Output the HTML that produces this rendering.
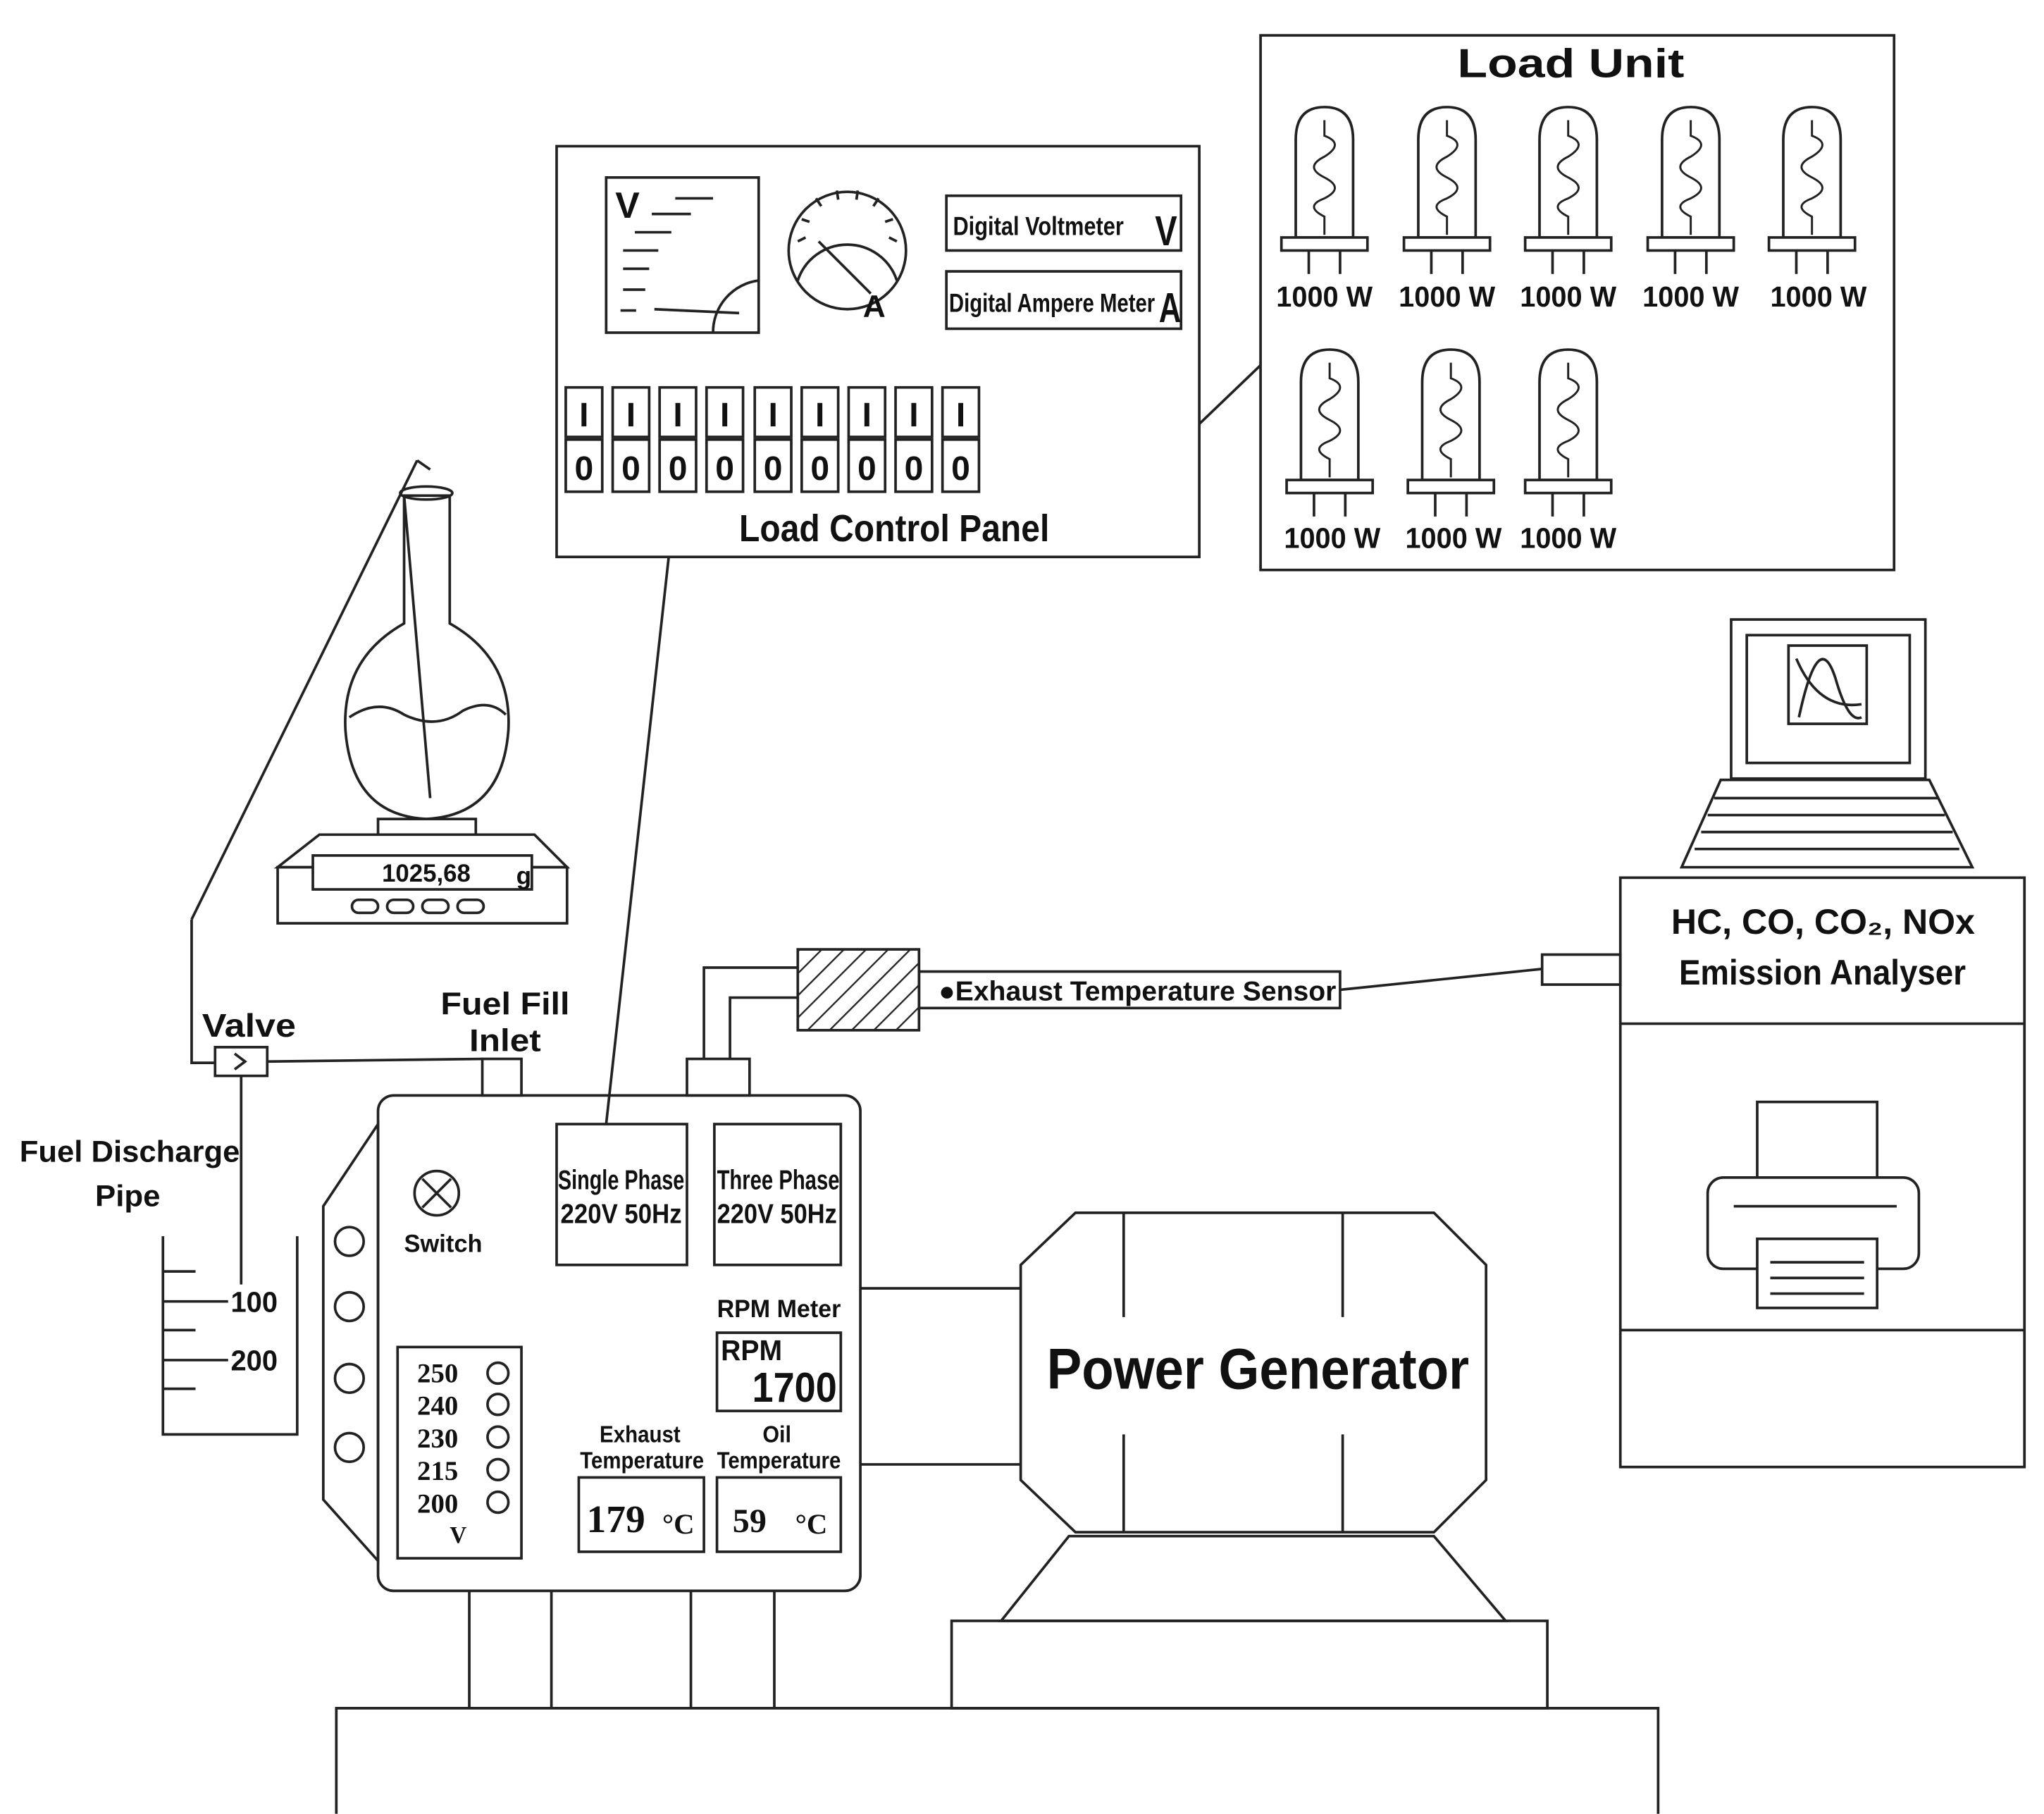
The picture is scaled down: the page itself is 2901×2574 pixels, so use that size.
<!DOCTYPE html>
<html><head><meta charset="utf-8"><style>
html,body{margin:0;padding:0;background:#fff;}
svg{display:block;}
text{font-family:"Liberation Sans",sans-serif;font-weight:bold;fill:#111;}
.s{font-family:"Liberation Serif",serif;}
</style></head><body>
<svg width="2901" height="2574" viewBox="0 0 1568 1391" xmlns="http://www.w3.org/2000/svg">
<defs>
<g id="bulb">
<path d="M-22,100 L-22,25 Q-22,0 0,0 Q22,0 22,25 L22,100 Z" fill="#fff" stroke="#222" stroke-width="2"/>
<path d="M0,10 L0,22 Q16,28 0,38 Q-16,46 0,54 Q16,62 0,70 Q-16,76 0,84 L0,98" fill="none" stroke="#222" stroke-width="1.6"/>
<rect x="-33" y="100" width="66" height="10" fill="#fff" stroke="#222" stroke-width="2"/>
<line x1="-12" y1="110" x2="-12" y2="128" stroke="#222" stroke-width="2"/>
<line x1="12" y1="110" x2="12" y2="128" stroke="#222" stroke-width="2"/>
</g>
<pattern id="hatch" width="12" height="12" patternUnits="userSpaceOnUse" patternTransform="rotate(45)">
<line x1="0" y1="0" x2="0" y2="12" stroke="#222" stroke-width="2.5"/>
</pattern>
</defs>
<g stroke="#222" stroke-width="2" fill="none">
<rect x="427" y="112" width="493" height="315"/>
<rect x="465" y="136" width="117" height="119"/>
<path d="M582,215 A40,40 0 0 0 547,255"/>
<line x1="518" y1="152" x2="547" y2="152"/><line x1="500" y1="164" x2="530" y2="164"/>
<line x1="487" y1="178" x2="515" y2="178"/><line x1="478" y1="192" x2="505" y2="192"/>
<line x1="478" y1="206" x2="498" y2="206"/><line x1="478" y1="222" x2="495" y2="222"/>
<line x1="476" y1="238" x2="488" y2="238"/><line x1="502" y1="237" x2="567" y2="240"/>
<circle cx="650" cy="192" r="45"/>
<path d="M612,215 A40,40 0 0 1 688,215"/>
<line x1="628" y1="185" x2="668" y2="225"/>
<line x1="612" y1="185" x2="618" y2="182"/><line x1="615" y1="168" x2="621" y2="170"/>
<line x1="626" y1="152" x2="630" y2="158"/><line x1="642" y1="146" x2="643" y2="153"/>
<line x1="658" y1="146" x2="657" y2="153"/><line x1="674" y1="152" x2="670" y2="158"/>
<line x1="685" y1="168" x2="679" y2="170"/><line x1="688" y1="185" x2="682" y2="182"/>
<rect x="726" y="150" width="180" height="42"/>
<rect x="726" y="208" width="180" height="44"/>
<g id="sw">
<rect x="434" y="297" width="28" height="38"/><rect x="434" y="337" width="28" height="40"/>
</g>
<use href="#sw" x="36"/><use href="#sw" x="72"/><use href="#sw" x="108"/><use href="#sw" x="145"/>
<use href="#sw" x="181"/><use href="#sw" x="217"/><use href="#sw" x="253"/><use href="#sw" x="289"/>
<line x1="920" y1="325" x2="967" y2="280"/>
<line x1="513" y1="427" x2="465" y2="862"/>
<rect x="967" y="27" width="486" height="410"/>
<line x1="320" y1="353" x2="147" y2="705"/>
<polyline points="147,705 147,815 165,815"/>
<line x1="320" y1="353" x2="330" y2="360"/>
<path d="M310,380 L310,478 Q262,505 265,560 Q270,625 327,628 Q385,625 390,560 Q393,505 345,478 L345,380 Z" fill="#fff"/>
<ellipse cx="327" cy="378" rx="20" ry="5"/>
<path d="M268,550 Q290,535 310,548 Q335,560 355,545 Q375,535 388,548"/>
<line x1="310" y1="380" x2="330" y2="612"/>
<rect x="290" y="628" width="75" height="12" fill="#fff"/>
<path d="M245,640 L410,640 L435,665 L213,665 Z" fill="#fff"/>
<rect x="213" y="665" width="222" height="43"/>
<rect x="240" y="656" width="168" height="26" fill="#fff"/>
<rect x="270" y="690" width="20" height="10" rx="5"/><rect x="297" y="690" width="20" height="10" rx="5"/>
<rect x="324" y="690" width="20" height="10" rx="5"/><rect x="351" y="690" width="20" height="10" rx="5"/>
<rect x="165" y="803" width="40" height="22"/>
<path d="M180,808 L188,814 L180,820"/>
<line x1="205" y1="814" x2="370" y2="812"/>
<rect x="370" y="812" width="30" height="28"/>
<line x1="185" y1="825" x2="185" y2="985"/>
<polyline points="125,948 125,1100 228,1100 228,948"/>
<line x1="125" y1="975" x2="150" y2="975"/><line x1="125" y1="998" x2="175" y2="998"/>
<line x1="125" y1="1020" x2="150" y2="1020"/><line x1="125" y1="1043" x2="175" y2="1043"/>
<line x1="125" y1="1065" x2="150" y2="1065"/>
<rect x="290" y="840" width="370" height="380" rx="12"/>
<polygon points="290,862 248,925 248,1150 290,1197"/>
<circle cx="268" cy="952" r="11"/><circle cx="268" cy="1002" r="11"/>
<circle cx="268" cy="1057" r="11"/><circle cx="268" cy="1110" r="11"/>
<circle cx="335" cy="915" r="17"/><line x1="324" y1="904" x2="346" y2="926"/><line x1="346" y1="904" x2="324" y2="926"/>
<rect x="305" y="1033" width="95" height="162"/>
<circle cx="382" cy="1053" r="8"/><circle cx="382" cy="1077" r="8"/><circle cx="382" cy="1102" r="8"/>
<circle cx="382" cy="1127" r="8"/><circle cx="382" cy="1152" r="8"/>
<rect x="427" y="862" width="100" height="108"/>
<rect x="548" y="862" width="97" height="108"/>
<rect x="550" y="1022" width="95" height="60"/>
<rect x="444" y="1133" width="96" height="57"/>
<rect x="550" y="1133" width="95" height="57"/>
<rect x="527" y="812" width="48" height="28"/>
<polyline points="540,812 540,742 612,742"/>
<polyline points="560,812 560,765 612,765"/>
<rect x="612" y="728" width="93" height="62" fill="url(#hatch)"/>
<rect x="705" y="745" width="323" height="28"/>
<line x1="1028" y1="759" x2="1183" y2="743"/>
<rect x="1183" y="732" width="60" height="23"/>
<rect x="1243" y="673" width="310" height="452"/>
<line x1="1243" y1="785" x2="1553" y2="785"/>
<line x1="1243" y1="1020" x2="1553" y2="1020"/>
<rect x="1348" y="845" width="92" height="58"/>
<rect x="1310" y="903" width="162" height="70" rx="12" fill="#fff"/>
<line x1="1330" y1="925" x2="1455" y2="925"/>
<rect x="1348" y="950" width="92" height="53" fill="#fff"/>
<line x1="1358" y1="968" x2="1430" y2="968"/><line x1="1358" y1="980" x2="1430" y2="980"/><line x1="1358" y1="992" x2="1430" y2="992"/>
<rect x="1328" y="475" width="149" height="122"/>
<rect x="1340" y="487" width="125" height="98"/>
<rect x="1372" y="495" width="60" height="60"/>
<path d="M1380,550 Q1395,480 1408,520 Q1418,555 1428,550"/>
<path d="M1378,505 Q1395,545 1428,540"/>
<path d="M1320,598 L1480,598 L1513,665 L1290,665 Z"/>
<line x1="1315" y1="612" x2="1487" y2="612"/><line x1="1310" y1="625" x2="1492" y2="625"/>
<line x1="1305" y1="638" x2="1498" y2="638"/><line x1="1300" y1="651" x2="1503" y2="651"/>
<line x1="660" y1="988" x2="783" y2="988"/><line x1="660" y1="1123" x2="783" y2="1123"/>
<polygon points="825,930 1100,930 1140,970 1140,1135 1100,1175 825,1175 783,1135 783,970"/>
<line x1="862" y1="930" x2="862" y2="1010"/><line x1="1030" y1="930" x2="1030" y2="1010"/>
<line x1="862" y1="1100" x2="862" y2="1175"/><line x1="1030" y1="1100" x2="1030" y2="1175"/>
<polygon points="820,1178 1100,1178 1155,1243 768,1243"/>
<rect x="730" y="1243" width="457" height="67"/>
<polyline points="258,1391 258,1310 1272,1310 1272,1391"/>
<line x1="360" y1="1220" x2="360" y2="1310"/><line x1="423" y1="1220" x2="423" y2="1310"/>
<line x1="530" y1="1220" x2="530" y2="1310"/><line x1="594" y1="1220" x2="594" y2="1310"/>
</g>
<use href="#bulb" x="1016" y="82"/><use href="#bulb" x="1110" y="82"/><use href="#bulb" x="1203" y="82"/>
<use href="#bulb" x="1297" y="82"/><use href="#bulb" x="1390" y="82"/>
<use href="#bulb" x="1020" y="268"/><use href="#bulb" x="1113" y="268"/><use href="#bulb" x="1203" y="268"/>
<g font-size="22" lengthAdjust="spacingAndGlyphs">
<text x="979" y="235" textLength="74" lengthAdjust="spacingAndGlyphs">1000 W</text>
<text x="1073" y="235" textLength="74" lengthAdjust="spacingAndGlyphs">1000 W</text>
<text x="1166" y="235" textLength="74" lengthAdjust="spacingAndGlyphs">1000 W</text>
<text x="1260" y="235" textLength="74" lengthAdjust="spacingAndGlyphs">1000 W</text>
<text x="1358" y="235" textLength="74" lengthAdjust="spacingAndGlyphs">1000 W</text>
<text x="985" y="420" textLength="74" lengthAdjust="spacingAndGlyphs">1000 W</text>
<text x="1078" y="420" textLength="74" lengthAdjust="spacingAndGlyphs">1000 W</text>
<text x="1166" y="420" textLength="74" lengthAdjust="spacingAndGlyphs">1000 W</text>
</g>
<text x="1118" y="59" font-size="31" textLength="174" lengthAdjust="spacingAndGlyphs">Load Unit</text>
<text x="567" y="415" font-size="29" textLength="238" lengthAdjust="spacingAndGlyphs">Load Control Panel</text>
<text x="472" y="167" font-size="28">V</text>
<text x="662" y="243" font-size="24">A</text>
<text x="731" y="180" font-size="20" textLength="131" lengthAdjust="spacingAndGlyphs">Digital Voltmeter</text>
<text x="886" y="188" font-size="32" textLength="17" lengthAdjust="spacingAndGlyphs">V</text>
<text x="728" y="239" font-size="20" textLength="158" lengthAdjust="spacingAndGlyphs">Digital Ampere Meter</text>
<text x="889" y="247" font-size="32" textLength="17" lengthAdjust="spacingAndGlyphs">A</text>
<g font-size="26" text-anchor="middle" font-weight="normal">
<text x="448" y="327">I</text><text x="484" y="327">I</text><text x="520" y="327">I</text><text x="556" y="327">I</text>
<text x="593" y="327">I</text><text x="629" y="327">I</text><text x="665" y="327">I</text><text x="701" y="327">I</text><text x="737" y="327">I</text>
<text x="448" y="368">0</text><text x="484" y="368">0</text><text x="520" y="368">0</text><text x="556" y="368">0</text>
<text x="593" y="368">0</text><text x="629" y="368">0</text><text x="665" y="368">0</text><text x="701" y="368">0</text><text x="737" y="368">0</text>
</g>
<text x="293" y="676" font-size="19" textLength="68" lengthAdjust="spacingAndGlyphs">1025,68</text><text x="396" y="678" font-size="19">g</text>
<text x="155" y="795" font-size="25" textLength="72" lengthAdjust="spacingAndGlyphs">Valve</text>
<text x="338" y="778" font-size="24" textLength="99" lengthAdjust="spacingAndGlyphs">Fuel Fill</text>
<text x="360" y="806" font-size="24" textLength="55" lengthAdjust="spacingAndGlyphs">Inlet</text>
<text x="15" y="891" font-size="23" textLength="169" lengthAdjust="spacingAndGlyphs">Fuel Discharge</text>
<text x="73" y="925" font-size="23" textLength="50" lengthAdjust="spacingAndGlyphs">Pipe</text>
<text x="177" y="1006" font-size="22" textLength="36" lengthAdjust="spacingAndGlyphs">100</text>
<text x="177" y="1051" font-size="22" textLength="36" lengthAdjust="spacingAndGlyphs">200</text>
<text x="310" y="960" font-size="19" textLength="60" lengthAdjust="spacingAndGlyphs">Switch</text>
<g font-size="21">
<text x="320" y="1060" class="s">250</text><text x="320" y="1085" class="s">240</text>
<text x="320" y="1110" class="s">230</text><text x="320" y="1135" class="s">215</text>
<text x="320" y="1160" class="s">200</text><text x="345" y="1183" class="s" font-size="18">V</text>
</g>
<text x="428" y="912" font-size="21" textLength="97" lengthAdjust="spacingAndGlyphs">Single Phase</text>
<text x="430" y="938" font-size="21" textLength="93" lengthAdjust="spacingAndGlyphs">220V 50Hz</text>
<text x="550" y="912" font-size="21" textLength="94" lengthAdjust="spacingAndGlyphs">Three Phase</text>
<text x="550" y="938" font-size="21" textLength="92" lengthAdjust="spacingAndGlyphs">220V 50Hz</text>
<text x="550" y="1010" font-size="19" textLength="95" lengthAdjust="spacingAndGlyphs">RPM Meter</text>
<text x="553" y="1043" font-size="22" font-weight="normal" textLength="47" lengthAdjust="spacingAndGlyphs">RPM</text>
<text x="577" y="1075" font-size="32" font-weight="normal" textLength="65" lengthAdjust="spacingAndGlyphs">1700</text>
<text x="460" y="1106" font-size="18" textLength="62" lengthAdjust="spacingAndGlyphs">Exhaust</text>
<text x="445" y="1126" font-size="18" textLength="95" lengthAdjust="spacingAndGlyphs">Temperature</text>
<text x="585" y="1106" font-size="18" textLength="22" lengthAdjust="spacingAndGlyphs">Oil</text>
<text x="550" y="1126" font-size="18" textLength="95" lengthAdjust="spacingAndGlyphs">Temperature</text>
<text x="450" y="1175" font-size="30" class="s">179</text><text x="508" y="1176" font-size="22" class="s">°C</text>
<text x="562" y="1175" font-size="26" class="s">59</text><text x="610" y="1176" font-size="22" class="s">°C</text>
<text x="720" y="767" font-size="21" textLength="305" lengthAdjust="spacingAndGlyphs">●Exhaust  Temperature Sensor</text>
<text x="1282" y="716" font-size="27" textLength="233" lengthAdjust="spacingAndGlyphs">HC, CO, CO₂, NOx</text>
<text x="1288" y="755" font-size="27" textLength="220" lengthAdjust="spacingAndGlyphs">Emission Analyser</text>
<text x="803" y="1065" font-size="44" textLength="324" lengthAdjust="spacingAndGlyphs">Power Generator</text>
</svg>
</body></html>
